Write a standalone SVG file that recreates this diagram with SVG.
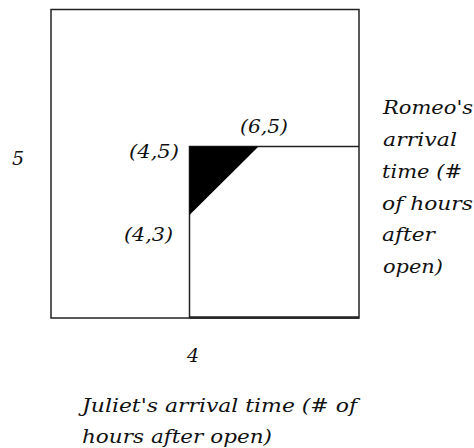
<svg xmlns="http://www.w3.org/2000/svg" width="474" height="448" viewBox="0 0 474 448">
<style>
text{font-family:"DejaVu Serif","Liberation Serif",serif;font-style:italic;font-size:19px;fill:#111}
.ln{fill:none;stroke:#222;stroke-width:1.5}
</style>
<rect width="474" height="448" fill="#fff"/>
<g id="outer"><rect class="ln" x="51" y="9.5" width="308" height="308.5"/></g>
<g id="inner"><path class="ln" d="M189.5,318 V146.5 H359"/><path d="M189.5,317.5 H359" stroke="#222" stroke-width="2.5"/></g>
<g id="triangle"><polygon points="189.5,146.5 258.5,146.5 189.5,215" fill="#000"/></g>
<g id="labels">
<text x="12" y="165">5</text>
<text x="129" y="158" textLength="50" lengthAdjust="spacingAndGlyphs">(4,5)</text>
<text x="240" y="133" textLength="48" lengthAdjust="spacingAndGlyphs">(6,5)</text>
<text x="124" y="241" textLength="49" lengthAdjust="spacingAndGlyphs">(4,3)</text>
<text x="187" y="362">4</text>
<text x="383" y="114" textLength="90" lengthAdjust="spacingAndGlyphs">Romeo's</text>
<text x="383" y="146" textLength="74" lengthAdjust="spacingAndGlyphs">arrival</text>
<text x="382" y="178" textLength="80" lengthAdjust="spacingAndGlyphs">time (#</text>
<text x="382" y="210" textLength="91" lengthAdjust="spacingAndGlyphs">of hours</text>
<text x="382" y="241" textLength="53" lengthAdjust="spacingAndGlyphs">after</text>
<text x="383" y="273" textLength="60" lengthAdjust="spacingAndGlyphs">open)</text>
<text x="82" y="412" textLength="275" lengthAdjust="spacingAndGlyphs">Juliet's arrival time (# of</text>
<text x="82" y="443" textLength="190" lengthAdjust="spacingAndGlyphs">hours after open)</text>
</g>
</svg>
